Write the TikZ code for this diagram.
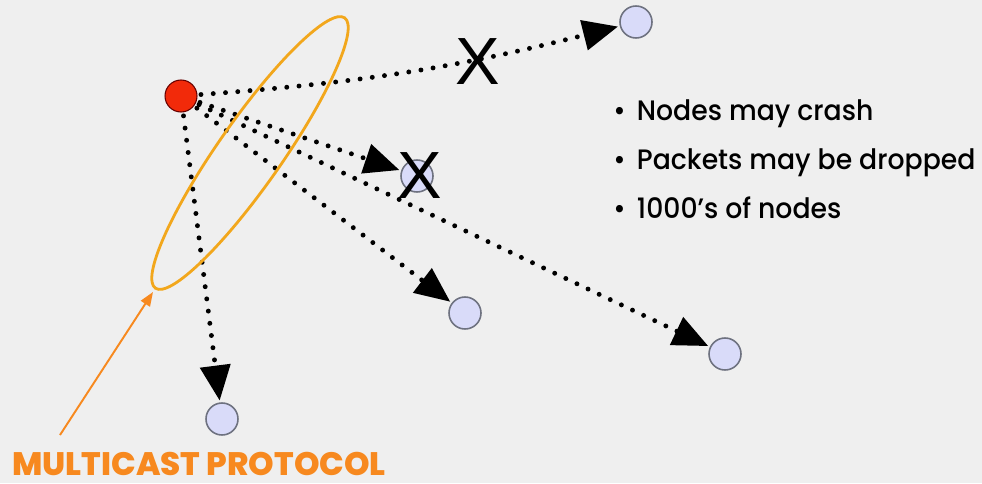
\documentclass[tikz,border=0pt]{standalone}
\usepackage{fontspec}
\setmainfont{Poppins}
\newfontfamily\notefont{Poppins Medium}[FakeStretch=0.95]
\newfontfamily\protofont{Poppins ExtraBold}
\setsansfont{Liberation Sans}
\usetikzlibrary{arrows.meta}

\definecolor{slidebg}{HTML}{EFEFEF}
\definecolor{peerfill}{HTML}{D9DBF9}
\definecolor{peerline}{HTML}{6E7280}
\definecolor{senderred}{HTML}{F22A0A}
\definecolor{ringorange}{HTML}{F2A71C}
\definecolor{labelorange}{HTML}{F7891F}

\tikzset{
  peer/.style={circle, draw=peerline, fill=peerfill, minimum size=0.64cm, inner sep=0pt, line width=0.9pt},
  gossip/.style={line width=2.8pt, dash pattern=on 0pt off 7pt, line cap=round,
    -{Triangle[length=20pt,width=17pt]}, shorten >=1pt, shorten <=2pt},
  lostmark/.style={font=\sffamily\fontsize{38}{38}\selectfont, inner sep=0pt},
}

\begin{document}
\begin{tikzpicture}[x=0.02cm, y=-0.02cm]
                % Background
                \fill[slidebg] (0,0) rectangle (982,483);
                \useasboundingbox (0,0) rectangle (982,483);
                
                % Sender and receivers
                \node[circle, draw=red!40!black, fill=senderred, minimum size=0.64cm, inner sep=0pt, line width=0.6pt] (src) at (181,96) {};
                \node[peer] (p1) at (636,22) {};
                \node[peer] (p2) at (417,176) {};
                \node[peer] (p3) at (465,313) {};
                \node[peer] (p4) at (725,354) {};
                \node[peer] (p5) at (222,419) {};
                
                % Multicast messages
                \draw[gossip] (src) to[bend right=5] (p1);
                \foreach \i in {2,3,4,5} {
                    \draw[gossip] (src) -- (p\i);
                }
                
                % Failures
                \node[lostmark] (x1) at (478,62) {X};
                \node[lostmark] (x2) at (420,176) {X};
                
                % Protocol ring
                \draw[ringorange, line width=1.6pt, rotate around={55:(250,153)}] (250,153) ellipse (165 and 32);
                \coordinate (ringtip) at (153,292);
                \coordinate (tail) at (60,435);
                \draw[labelorange, line width=1.1pt, -{Triangle[length=8pt,width=6pt]}] (tail) -- (ringtip);
                \node[anchor=base west, inner sep=0pt, text=labelorange, font=\protofont\fontsize{18.5}{18.5}\selectfont] (proto) at (12,475) {MULTICAST PROTOCOL};
                
                % Notes
                \foreach \t [count=\i] in {Nodes may crash, Packets may be dropped, 1000’s of nodes} {
                    \node[anchor=base west, inner sep=0pt, font=\notefont\fontsize{16}{16}\selectfont] (note\i) at (613,{120+49*(\i-1)}) {•\hspace{0.4em}\t};
                }
\end{tikzpicture}
\end{document}
